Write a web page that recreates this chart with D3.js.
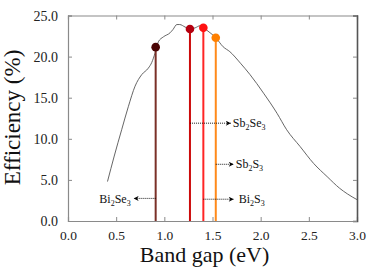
<!DOCTYPE html>
<html><head><meta charset="utf-8">
<script src="https://cdn.jsdelivr.net/npm/d3@7/dist/d3.min.js"></script>
<style>html,body{margin:0;padding:0;background:#fff}svg{display:block}</style>
</head><body>
<svg id="c" width="374" height="268"></svg>
<script>
const bandgap = [0.41,0.48,0.557,0.626,0.696,0.765,0.834,0.87,0.903,0.938,0.99,1.06,1.09,1.13,1.16,1.215,1.266,1.32,1.37,1.405,1.475,1.534,1.61,1.68,1.79,1.89,2.03,2.17,2.27,2.41,2.55,2.69,2.82,2.9,3.0];
const efficiency = [4.8,7.9,11.1,13.9,16.4,17.8,18.6,19.3,20.4,21.8,22.4,22.9,23.3,23.9,23.9,23.6,23.35,23.5,23.75,23.5,22.9,22.3,21.2,20.6,19.2,17.8,15.55,13.1,11.1,9.05,7.0,5.4,3.98,3.3,2.6];
const materials = ["Bi2Se3","Sb2Se3","Bi2S3","Sb2S3"];
const matGap = [0.91,1.266,1.405,1.534];
const matEff = [21.15,23.35,23.5,22.3];
const markerColors = ["#4a0505","#b5000f","#ff1212","#ff8000"];
const lineColors = ["#7a3028","#cc0a0a","#ff2525","#ff8a1a"];
const labelEff = [2.75,11.9,2.65,6.9];
const labelSide = ["left","right","right","right"];
const xTicks = [0,0.5,1,1.5,2,2.5,3];
const yTicks = [0,5,10,15,20,25];

const FONT = "Times New Roman, Liberation Serif, Tinos, serif";
const svg = d3.select("#c").style("font-family", FONT);
const x = d3.scaleLinear().domain([0,3]).range([68,357]);
const y = d3.scaleLinear().domain([0,25]).range([221,15.5]);

const defs = svg.append("defs");
defs.append("marker").attr("id","ah").attr("viewBox","0 0 10 10").attr("refX",10).attr("refY",5)
  .attr("markerWidth",7).attr("markerHeight",5).attr("markerUnits","userSpaceOnUse").attr("orient","auto")
  .append("path").attr("d","M0,0L10,5L0,10L3,5Z").attr("fill","#000");

const fmt = d3.format(".1f");
const gB = svg.append("g").attr("transform",`translate(0,${y(0)})`)
  .call(d3.axisBottom(x).tickValues(xTicks).tickSize(-4).tickPadding(9).tickFormat(fmt));
const gT = svg.append("g").attr("transform",`translate(0,${y(25)})`)
  .call(d3.axisTop(x).tickValues(xTicks).tickSize(-4).tickFormat(""));
const gL = svg.append("g").attr("transform",`translate(${x(0)},0)`)
  .call(d3.axisLeft(y).tickValues(yTicks).tickSize(-4).tickPadding(10).tickFormat(fmt));
const gR = svg.append("g").attr("transform",`translate(${x(3)},0)`)
  .call(d3.axisRight(y).tickValues(yTicks).tickSize(-4).tickFormat(""));
[gB,gT,gL,gR].forEach(g=>{
  g.attr("font-family", FONT);
  g.selectAll(".domain").attr("stroke","#8a8a8a").attr("stroke-width",1.2);
  g.selectAll(".tick line").attr("stroke","#8a8a8a");
  g.selectAll("text").style("font-family", FONT).attr("font-size",14).attr("fill","#222");
});
gR.select(".domain").attr("stroke","#555").attr("stroke-width",1.6);
gL.selectAll("text").attr("dy","0.33em");
gB.selectAll("text").attr("font-size",13.5).attr("dy","0.71em");

const pts = bandgap.map((b,i)=>[b,efficiency[i]]);
svg.append("path").datum(pts)
  .attr("d",d3.line().x(d=>x(d[0])).y(d=>y(d[1])).curve(d3.curveMonotoneX))
  .attr("fill","none").attr("stroke","#555").attr("stroke-width",0.9);

materials.forEach((m,i)=>{
  svg.append("line").attr("x1",x(matGap[i])).attr("x2",x(matGap[i]))
    .attr("y1",y(0)).attr("y2",y(matEff[i])).attr("stroke",lineColors[i]).attr("stroke-width",2);
});
materials.forEach((m,i)=>{
  svg.append("circle").attr("cx",x(matGap[i])).attr("cy",y(matEff[i])).attr("r",4.3).attr("fill",markerColors[i]);
});

materials.forEach((m,i)=>{
  const yy = y(labelEff[i]);
  const x0 = x(matGap[i]);
  let x1, tx, anchor;
  if (labelSide[i]==="left"){ x1 = x0-22; tx = x1-3; anchor="end"; }
  else { x1 = x(1.71); tx = x1+2; anchor="start"; }
  if (i===2){ x1 = x(1.71)+1; tx = x1+5; }
  if (i===1){ x1 = x(1.69); tx = x1+2; }
  if (i===3){ x1 = x(1.71)+1; tx = x1+2; }
  svg.append("line").attr("x1",x0).attr("x2",x1).attr("y1",yy).attr("y2",yy)
    .attr("stroke","#000").attr("stroke-width",0.9).attr("stroke-dasharray","1,1").attr("marker-end","url(#ah)");
  const t = svg.append("text").attr("x",tx).attr("y",yy).attr("dy","0.35em").style("font-family", FONT)
    .attr("font-size",12).attr("text-anchor",anchor).attr("fill","#111");
  const parts = m.match(/[A-Za-z]+|[0-9]+/g);
  parts.forEach((p,k)=>{
    if (/[0-9]/.test(p)) t.append("tspan").attr("font-size",8).attr("dy","3").text(p);
    else t.append("tspan").attr("dy", k>0 ? "-3":null).text(p);
  });
});

svg.append("text").attr("x",204.5).attr("y",262).attr("text-anchor","middle").style("font-family", FONT)
  .attr("font-size",22).attr("fill","#111").text("Band gap (eV)");
svg.append("text").attr("transform","translate(20,117.5) rotate(-90)").attr("text-anchor","middle").style("font-family", FONT)
  .attr("font-size",23).attr("fill","#111").text("Efficiency (%)");
</script>
</body></html>
